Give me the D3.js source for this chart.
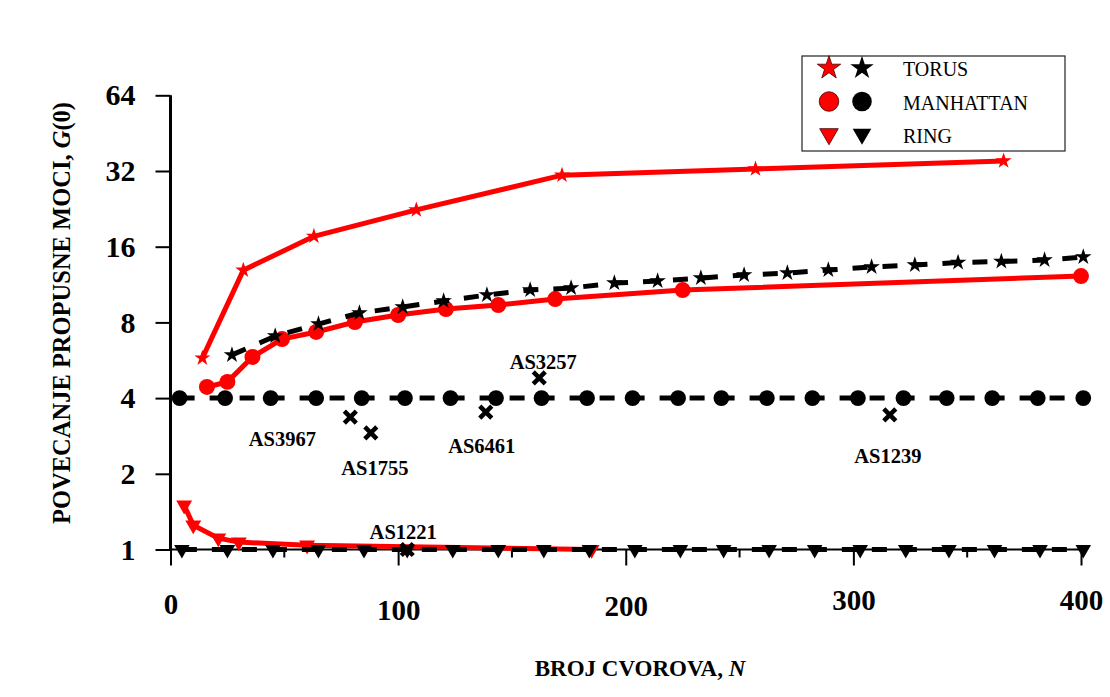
<!DOCTYPE html>
<html><head><meta charset="utf-8">
<script src="https://cdn.jsdelivr.net/npm/d3@7"></script>
<style>body{margin:0;background:#fff}svg{display:block}</style>
</head><body>
<script>
// ---- data ----
const xTicks = [0, 100, 200, 300, 400];
const xMinorTicks = [50, 150, 250, 350];
const yTicks = [1, 2, 4, 8, 16, 32, 64];

const torusRedN = [14, 32, 63, 108, 172, 257, 366];
const torusRedG = [5.77, 12.9, 17.6, 22.4, 30.8, 32.6, 35.1];

const torusBlackN = [27, 46, 65, 83, 102, 120, 139, 158, 176, 195, 214, 233, 252, 271, 289, 308, 327, 346, 365, 384, 401];
const torusBlackG = [5.94, 7.06, 7.88, 8.72, 9.21, 9.73, 10.28, 10.76, 10.96, 11.47, 11.69, 12.01, 12.35, 12.57, 12.92, 13.28, 13.53, 13.84, 13.97, 14.16, 14.56];

const manhRedN = [16, 25, 36, 49, 64, 81, 100, 121, 144, 169, 225, 400];
const manhRedG = [4.43, 4.64, 5.83, 6.87, 7.33, 8.03, 8.56, 9.04, 9.38, 9.91, 10.76, 12.23];

const manhBlackN = [4, 24, 44, 64, 84, 103, 123, 143, 163, 183, 203, 223, 242, 262, 282, 302, 322, 341, 361, 381, 401];
const manhBlackG = manhBlackN.map(() => 4);

const ringRedN = [6, 10, 21, 30, 60, 185];
const ringRedG = [1.50, 1.25, 1.11, 1.07, 1.04, 1.0];

const ringBlackN = [5, 25, 45, 65, 85, 104, 124, 144, 164, 184, 204, 224, 243, 263, 283, 303, 323, 342, 362, 382, 401];
const ringBlackG = ringBlackN.map(() => 1);

const asNames = ["AS3967", "AS1755", "AS6461", "AS3257", "AS1239", "AS1221"];
const asN = [79, 88, 138.5, 162, 316, 104];
const asG = [3.36, 2.91, 3.52, 4.81, 3.43, 1.0];

const legendLabels = ["TORUS", "MANHATTAN", "RING"];

// ---- drawing ----
const W = 1110, H = 697;
const svg = d3.select("body").append("svg").attr("width", W).attr("height", H);
const x = d3.scaleLinear().domain([0, 400]).range([170.5, 1081]);
const y = d3.scaleLog().base(2).domain([1, 64]).range([549.5, 95.3]);
const serif = "'Liberation Serif','Times New Roman',serif";

const sym = (type, size) => d3.symbol().type(type).size(size)();
const starPath = s => sym(d3.symbolStar, s);
const circPath = s => sym(d3.symbolCircle, s);
const triPath = s => sym(d3.symbolTriangle, s);

// axes
const gY = svg.append("g").attr("transform", `translate(${x(0)},0)`)
  .call(d3.axisLeft(y).tickValues(yTicks).tickFormat(d3.format("d")).tickSize(15).tickPadding(20));
gY.select(".domain").attr("stroke", "#000").attr("stroke-width", 3).attr("d", `M0,${y(64)}V${y(1)}`);
gY.selectAll(".tick line").attr("stroke", "#000").attr("stroke-width", 2);
gY.selectAll(".tick text").attr("font-family", serif).attr("font-weight", "bold").attr("font-size", 30).attr("fill", "#000");

const xLabelShift = [0, 6, 2, -4, -4];
const gX = svg.append("g").attr("transform", `translate(0,${y(1)})`)
  .call(d3.axisBottom(x).tickValues(xTicks).tickFormat(d3.format("d")).tickSize(16).tickPadding(28));
gX.select(".domain").attr("stroke", "#000").attr("stroke-width", 2).attr("d", `M${x(0)},0H${x(400)}`);
gX.selectAll(".tick line").attr("stroke", "#000").attr("stroke-width", 2);
gX.selectAll(".tick text").attr("font-family", serif).attr("font-weight", "bold").attr("font-size", 29).attr("fill", "#000")
  .attr("transform", (d, i) => `translate(0,${xLabelShift[i]})`);
svg.append("g").selectAll("line").data(xMinorTicks).join("line")
  .attr("x1", d => x(d)).attr("x2", d => x(d)).attr("y1", y(1)).attr("y2", y(1) + 8)
  .attr("stroke", "#000").attr("stroke-width", 2);

// axis titles
const yt = svg.append("text").attr("transform", `translate(70,313) rotate(-90)`)
  .attr("text-anchor", "middle").attr("font-family", serif).attr("font-weight", "bold").attr("font-size", 24.5);
yt.append("tspan").text("POVECANJE PROPUSNE MOCI, ");
yt.append("tspan").attr("font-style", "italic").text("G");
yt.append("tspan").text("(0)");
const xt = svg.append("text").attr("x", 640).attr("y", 676)
  .attr("text-anchor", "middle").attr("font-family", serif).attr("font-weight", "bold").attr("font-size", 23);
xt.append("tspan").text("BROJ CVOROVA, ");
xt.append("tspan").attr("font-style", "italic").text("N");

const line = d3.line().x(d => x(d[0])).y(d => y(d[1]));
const zip = (a, b) => a.map((v, i) => [v, b[i]]);

function series(N, G, color, dashed, pathFn, rotate) {
  const pts = zip(N, G);
  svg.append("path").datum(pts).attr("d", line).attr("fill", "none")
    .attr("stroke", color).attr("stroke-width", 5)
    .attr("stroke-dasharray", dashed ? "15,15" : null);
  svg.append("g").selectAll("path").data(pts).join("path")
    .attr("d", pathFn)
    .attr("transform", d => `translate(${x(d[0])},${y(d[1])})${rotate ? " rotate(180)" : ""}`)
    .attr("fill", color);
}

series(ringRedN, ringRedG, "#ff0000", false, () => triPath(110), true);
series(ringBlackN, ringBlackG, "#000", true, () => triPath(105), true);
series(manhBlackN, manhBlackG, "#000", true, () => circPath(195), false);
series(manhRedN, manhRedG, "#ff0000", false, () => circPath(200), false);
series(torusBlackN, torusBlackG, "#000", true, () => starPath(85), false);
series(torusRedN, torusRedG, "#ff0000", false, () => starPath(80), false);

// AS markers
const asPts = asNames.map((n, i) => ({ name: n, N: asN[i], G: asG[i] }));
const xm = svg.append("g").selectAll("g").data(asPts).join("g")
  .attr("transform", d => `translate(${x(d.N)},${y(d.G)})`);
xm.append("path").attr("d", "M-6,-6L6,6M-6,6L6,-6").attr("stroke", "#000").attr("stroke-width", 4.5);

const labelOffsets = { AS3967: [-68, 22], AS1755: [4, 35], AS6461: [-4, 34], AS3257: [4, -16], AS1239: [-2, 41], AS1221: [-4, -18] };
svg.append("g").selectAll("text").data(asPts).join("text")
  .attr("x", d => x(d.N) + labelOffsets[d.name][0])
  .attr("y", d => y(d.G) + labelOffsets[d.name][1])
  .attr("text-anchor", "middle").attr("dominant-baseline", "central")
  .attr("font-family", serif).attr("font-weight", "bold").attr("font-size", 20.5)
  .text(d => d.name);

// legend
const lg = svg.append("g");
lg.append("rect").attr("x", 802).attr("y", 56).attr("width", 263).attr("height", 95)
  .attr("fill", "#fff").attr("stroke", "#222").attr("stroke-width", 1.2);
const legendSyms = [() => starPath(170), () => circPath(300), () => triPath(150)];
legendLabels.forEach((lab, i) => {
  const cy = 68 + i * 33.5;
  const rot = i === 2 ? " rotate(180)" : "";
  const dy = i === 2 ? -1 : 0;
  lg.append("path").attr("d", legendSyms[i]()).attr("transform", `translate(829,${cy + dy})${rot}`)
    .attr("fill", "#ff0000").attr("stroke", "#400").attr("stroke-width", 0.8);
  lg.append("path").attr("d", legendSyms[i]()).attr("transform", `translate(862,${cy + dy})${rot}`)
    .attr("fill", "#000");
  lg.append("text").attr("x", 903).attr("y", cy + 1).attr("dominant-baseline", "central")
    .attr("font-family", serif).attr("font-size", 20).text(lab);
});
</script>
</body></html>
